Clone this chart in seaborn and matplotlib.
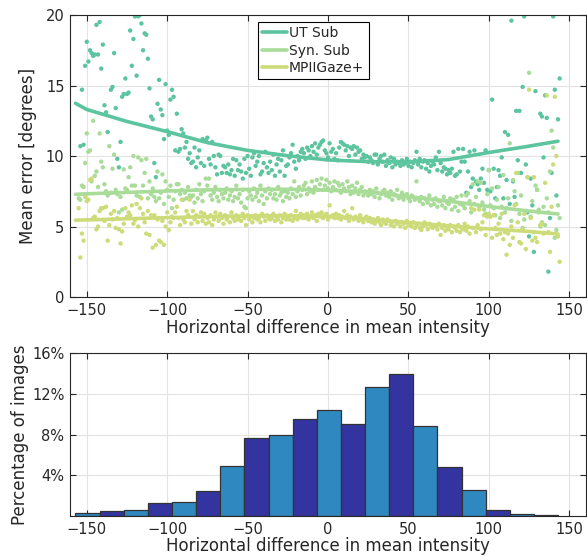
import numpy as np
import pandas as pd
import seaborn as sns
import matplotlib.pyplot as plt

# horizontal intensity difference of each sample, one per unit from -155 to 144
x_pts = np.arange(-155, 145)

# mean error [degrees] per sample, 10 samples per row
ut_sub = [
    21.5, 10.7, 14.7, 10.8, 16.4, 18.1, 16.7, 17.5, 17.3, 17.1,
    17.2, 19.3, 17.2, 19.5, 16.2, 17.9, 13.6, 13.1, 11.7, 21.0,
    14.7, 14.9, 17.3, 13.4, 9.8, 9.2, 11.0, 14.2, 14.4, 15.5,
    14.4, 14.5, 18.9, 16.4, 18.3, 19.9, 15.7, 19.9, 20.0, 19.4,
    17.5, 18.7, 18.6, 16.9, 14.8, 12.8, 12.6, 9.5, 8.5, 13.7,
    15.4, 13.3, 12.9, 11.2, 15.1, 11.8, 11.5, 14.0, 14.7, 14.2,
    10.4, 13.0, 10.3, 10.5, 11.9, 11.6, 10.6, 11.0, 9.8, 10.2,
    9.5, 9.6, 10.6, 9.2, 9.9, 10.4, 9.5, 11.2, 9.3, 11.1,
    11.3, 9.8, 9.4, 11.0, 10.0, 9.2, 8.7, 10.1, 10.0, 8.8,
    9.3, 9.2, 8.8, 9.4, 8.7, 9.0, 9.8, 8.6, 9.7, 9.0,
    9.4, 8.9, 8.4, 9.8, 8.8, 10.0, 9.1, 8.6, 9.9, 10.2,
    9.3, 9.6, 10.0, 8.7, 8.9, 9.5, 10.3, 9.2, 8.8, 9.6,
    9.0, 10.1, 8.6, 9.4, 9.8, 8.9, 9.7, 10.4, 8.6, 9.3,
    9.4, 9.9, 10.2, 10.8, 9.6, 9.1, 10.0, 9.7, 10.3, 10.5,
    10.2, 9.8, 10.6, 10.4, 10.0, 10.7, 10.3, 10.9, 10.1, 10.6,
    10.8, 11.0, 11.1, 10.4, 10.2, 9.9, 10.9, 10.3, 10.5, 9.8,
    10.2, 9.7, 10.6, 11.0, 10.9, 10.8, 10.4, 10.7, 10.0, 10.6,
    10.5, 10.7, 10.1, 10.6, 10.3, 10.4, 9.8, 10.1, 9.9, 10.0,
    9.6, 9.9, 9.7, 9.5, 10.1, 10.1, 9.4, 9.8, 10.0, 9.6,
    10.1, 9.3, 9.7, 9.5, 9.9, 9.2, 9.8, 9.4, 9.6, 9.5,
    9.3, 9.7, 9.4, 9.5, 9.8, 9.3, 9.6, 9.2, 9.5, 9.7,
    10.3, 9.4, 9.8, 9.2, 9.6, 9.7, 9.1, 9.5, 8.9, 9.3,
    9.6, 9.4, 9.9, 9.0, 10.3, 9.5, 8.9, 9.2, 9.1, 8.7,
    9.0, 8.8, 9.1, 10.3, 8.6, 8.7, 10.5, 8.9, 9.6, 10.5,
    9.6, 7.4, 8.9, 10.3, 7.8, 8.4, 10.4, 8.2, 8.0, 7.6,
    8.4, 9.1, 8.1, 10.4, 7.6, 9.0, 7.5, 14.0, 9.1, 7.0,
    7.8, 9.0, 8.6, 9.9, 7.0, 11.7, 8.3, 11.5, 6.6, 19.6,
    8.2, 7.1, 13.2, 9.7, 13.2, 8.8, 14.9, 19.9, 9.4, 6.0,
    4.3, 8.4, 6.5, 3.2, 14.6, 7.6, 21.5, 13.0, 12.8, 9.9,
    14.3, 12.7, 1.8, 5.6, 8.8, 19.9, 14.7, 7.2, 12.6, 15.5,
]
syn_sub = [
    7.0, 6.9, 7.9, 7.8, 9.5, 11.6, 10.3, 10.4, 8.2, 12.5,
    8.6, 8.9, 7.8, 11.6, 9.6, 9.2, 8.0, 7.5, 7.2, 10.7,
    7.4, 9.1, 10.1, 7.6, 7.3, 6.0, 7.1, 6.2, 9.05, 7.7,
    7.6, 8.5, 9.2, 7.9, 10.0, 7.9, 7.2, 9.9, 7.1, 9.7,
    7.9, 8.8, 9.8, 7.0, 8.2, 7.3, 7.7, 7.1, 6.8, 8.9,
    7.0, 7.4, 8.7, 6.6, 8.2, 7.6, 7.1, 7.9, 6.3, 6.9,
    7.5, 8.0, 8.0, 7.3, 7.6, 6.9, 7.4, 7.0, 7.8, 7.2,
    7.1, 7.2, 6.7, 7.6, 7.0, 8.0, 7.3, 6.8, 7.5, 8.4,
    7.9, 8.4, 7.2, 6.9, 7.4, 7.8, 7.1, 6.8, 7.6, 7.3,
    7.0, 7.4, 7.7, 6.9, 7.2, 7.5, 6.8, 7.1, 7.9, 7.0,
    7.3, 6.7, 7.6, 6.4, 6.3, 7.0, 7.5, 7.2, 6.9, 7.7,
    7.1, 7.4, 6.8, 7.9, 7.2, 6.6, 7.5, 7.0, 7.7, 7.3,
    7.6, 7.0, 7.3, 6.9, 7.8, 7.2, 7.4, 6.8, 7.5, 7.1,
    7.4, 7.0, 7.7, 7.3, 8.2, 7.1, 7.5, 7.8, 7.2, 7.6,
    7.9, 8.1, 7.3, 7.7, 7.5, 8.2, 7.4, 7.8, 8.3, 7.6,
    8.0, 8.4, 7.6, 7.9, 8.3, 7.7, 8.1, 7.5, 7.8, 8.2,
    7.6, 8.1, 7.9, 7.4, 8.0, 7.7, 7.5, 8.2, 7.8, 7.3,
    7.9, 7.4, 7.7, 8.1, 7.3, 7.6, 7.8, 7.2, 7.5, 7.4,
    7.2, 7.6, 7.3, 7.5, 7.1, 7.7, 7.4, 7.0, 7.3, 7.5,
    7.6, 7.2, 7.4, 7.1, 7.5, 6.9, 7.3, 7.2, 7.6, 7.0,
    7.1, 7.4, 6.9, 7.2, 7.3, 7.0, 6.8, 7.2, 7.1, 6.9,
    8.2, 7.0, 6.8, 7.1, 6.6, 7.0, 6.9, 6.7, 7.2, 6.5,
    6.9, 6.6, 7.0, 6.4, 6.8, 6.8, 6.5, 7.1, 6.3, 6.7,
    6.6, 7.0, 6.2, 6.9, 6.4, 7.1, 6.1, 6.6, 7.2, 6.5,
    6.3, 7.2, 7.35, 6.8, 6.0, 8.0, 6.6, 7.1, 8.2, 6.4,
    8.1, 6.7, 6.2, 5.9, 7.3, 9.0, 6.5, 7.7, 6.3, 5.8,
    6.9, 7.8, 5.6, 6.4, 8.65, 6.0, 6.3, 7.0, 10.9, 5.4,
    8.3, 7.5, 6.6, 8.8, 5.9, 7.2, 4.9, 5.5, 6.1, 8.5,
    15.9, 5.7, 6.8, 4.6, 7.9, 7.6, 6.2, 5.0, 5.3, 6.4,
    5.1, 7.0, 6.0, 8.9, 11.8, 10.6, 4.2, 4.75, 6.5, 5.6,
]
mpii_gaze = [
    6.3, 2.8, 4.5, 4.0, 7.1, 6.8, 6.9, 8.3, 8.4, 5.6,
    5.7, 4.8, 5.0, 6.1, 6.3, 6.3, 5.4, 6.4, 4.0, 5.1,
    5.9, 5.5, 6.1, 4.9, 5.6, 4.8, 3.8, 4.65, 5.2, 6.3,
    5.7, 6.0, 5.8, 6.5, 5.2, 5.45, 6.6, 5.0, 6.3, 7.0,
    5.9, 5.3, 4.5, 6.1, 4.4, 5.8, 3.5, 5.8, 3.7, 5.5,
    4.0, 3.9, 5.4, 3.7, 5.0, 6.0, 4.75, 5.3, 5.7, 5.6,
    6.0, 6.4, 5.6, 5.1, 6.9, 5.5, 5.3, 6.1, 5.8, 6.9,
    5.2, 6.1, 5.5, 5.8, 5.3, 5.7, 6.0, 5.4, 5.9, 5.2,
    5.6, 5.3, 5.8, 5.1, 5.5, 6.0, 5.7, 5.4, 5.9, 5.6,
    5.2, 5.8, 5.5, 5.7, 5.3, 6.0, 5.6, 5.4, 5.8, 5.5,
    5.7, 5.4, 5.9, 5.6, 5.1, 5.8, 5.5, 5.7, 5.3, 5.6,
    5.8, 5.5, 5.6, 5.3, 5.9, 5.7, 5.4, 5.8, 5.6, 5.5,
    5.6, 5.9, 5.4, 5.7, 5.5, 5.8, 5.3, 5.6, 5.9, 5.5,
    5.7, 5.5, 5.8, 5.4, 5.6, 6.1, 5.5, 5.7, 5.9, 5.6,
    5.8, 5.6, 5.9, 5.5, 5.7, 6.0, 5.6, 5.8, 5.4, 5.9,
    5.7, 6.0, 5.6, 5.8, 5.9, 5.5, 6.5, 5.7, 5.8, 5.6,
    5.9, 5.6, 5.8, 5.5, 5.7, 6.1, 5.6, 5.8, 5.4, 5.7,
    6.3, 5.5, 5.7, 5.6, 5.4, 5.8, 5.5, 5.3, 5.6, 5.7,
    5.4, 5.6, 5.3, 5.5, 5.2, 5.4, 5.6, 5.3, 5.1, 5.5,
    5.3, 5.2, 5.5, 5.4, 5.1, 5.3, 5.0, 5.4, 5.2, 5.3,
    5.0, 5.3, 5.2, 4.9, 5.4, 5.1, 5.2, 5.0, 5.3, 4.9,
    5.1, 5.2, 4.9, 4.75, 5.0, 5.3, 5.1, 4.8, 5.2, 5.0,
    4.9, 5.1, 5.0, 4.8, 5.2, 4.4, 4.9, 5.1, 4.7, 5.0,
    4.8, 5.1, 4.6, 5.0, 4.9, 4.7, 5.1, 4.6, 4.9, 4.8,
    5.2, 4.7, 5.0, 4.5, 6.3, 4.9, 6.2, 4.6, 5.1, 6.2,
    4.8, 5.3, 5.8, 4.4, 5.7, 5.9, 5.7, 4.2, 5.8, 4.9,
    4.4, 5.2, 4.5, 5.9, 4.1, 4.6, 3.0, 4.5, 3.7, 5.0,
    4.2, 6.5, 8.8, 5.3, 3.9, 3.8, 4.8, 5.9, 3.4, 8.5,
    14.7, 5.6, 4.0, 8.5, 4.2, 3.9, 6.0, 5.1, 5.2, 4.5,
    8.1, 14.3, 4.6, 3.2, 6.4, 9.4, 14.2, 10.0, 4.3, 2.5,
]

# fitted trend curves
curve_x = [-157, -150, -125, -100, -75, -50, -25, 0, 25, 50, 75, 100, 125, 143]
ut_curve = [13.74, 13.3, 12.45, 11.73, 10.95, 10.4, 10.02, 9.72, 9.6, 9.58, 9.75, 10.25, 10.7, 11.05]
syn_curve = [7.28, 7.32, 7.42, 7.52, 7.6, 7.63, 7.64, 7.58, 7.45, 7.12, 6.8, 6.42, 6.1, 5.89]
mpii_curve = [5.45, 5.47, 5.55, 5.63, 5.7, 5.75, 5.77, 5.72, 5.53, 5.28, 5.05, 4.83, 4.65, 4.47]

methods = ["UT Sub", "Syn. Sub", "MPIIGaze+"]
colors = ["#5cc49e", "#a8dc98", "#cddc78"]

# histogram of the horizontal difference (percent of images per bin)
bin_edges = list(range(-157, 144, 15))
hist_pct = [0.30, 0.49, 0.56, 1.25, 1.41, 2.46, 4.95, 7.67, 8.0, 9.54,
            10.46, 9.05, 12.66, 13.93, 8.85, 4.82, 2.52, 0.56, 0.20, 0.07]
bar_colors = ["#3088c0", "#3434a0"]

# long-form tables for seaborn
pts = pd.concat([
    pd.DataFrame({"x": x_pts, "err": vals, "method": m})
    for m, vals in zip(methods, [ut_sub, syn_sub, mpii_gaze])
])
curves = pd.concat([
    pd.DataFrame({"x": curve_x, "err": vals, "method": m})
    for m, vals in zip(methods, [ut_curve, syn_curve, mpii_curve])
])
bin_centers = [(bin_edges[i] + bin_edges[i + 1]) / 2 for i in range(len(hist_pct))]
hist_df = pd.DataFrame({"center": bin_centers, "pct": hist_pct})

sns.set_style("whitegrid", {"grid.color": "#e3e3e3", "axes.edgecolor": "#262626"})
plt.rcParams["font.family"] = ["DejaVu Sans"]
plt.rcParams["axes.labelcolor"] = "#262626"

fig = plt.figure(figsize=(5.87, 5.58), dpi=100)
ax1 = fig.add_axes([0.1193, 0.4677, 0.8790, 0.5054])
ax2 = fig.add_axes([0.1193, 0.0753, 0.8790, 0.2916])

palette = dict(zip(methods, colors))

# top panel: scatter + trend curves
sns.scatterplot(data=pts, x="x", y="err", hue="method", palette=palette,
                s=10, linewidth=0, legend=False, ax=ax1)
sns.lineplot(data=curves, x="x", y="err", hue="method", palette=palette,
             linewidth=2.6, ax=ax1)
handles, labels = ax1.get_legend_handles_labels()
leg = ax1.legend(handles, labels, loc="upper left", bbox_to_anchor=(0.364, 0.975),
                 borderaxespad=0, fancybox=False, framealpha=1, edgecolor="black",
                 fontsize=10, handlelength=1.8, labelspacing=0.25, borderpad=0.3,
                 handletextpad=0.15)
leg.get_frame().set_linewidth(0.8)

ax1.set_xlim(-160.4, 160.4)
ax1.set_ylim(0, 20)
ax1.set_xticks([-150, -100, -50, 0, 50, 100, 150])
ax1.set_yticks([0, 5, 10, 15, 20])
ax1.set_xlabel("Horizontal difference in mean intensity", fontsize=12, labelpad=1)
ax1.set_ylabel("Mean error [degrees]", fontsize=12, labelpad=6)

# bottom panel: histogram with alternating bar colours
sns.histplot(data=hist_df, x="center", weights="pct", bins=bin_edges,
             edgecolor="#333333", linewidth=0.9, alpha=1, ax=ax2)
for i, patch in enumerate(ax2.patches):
    patch.set_facecolor(bar_colors[i % 2])

ax2.set_xlim(-160.4, 160.4)
ax2.set_ylim(0, 16)
ax2.set_xticks([-150, -100, -50, 0, 50, 100, 150])
ax2.set_yticks([4, 8, 12, 16])
ax2.set_yticklabels(["4%", "8%", "12%", "16%"])
ax2.set_xlabel("Horizontal difference in mean intensity", fontsize=12, labelpad=0)
ax2.set_ylabel("Percentage of images", fontsize=12, labelpad=2)

for ax in (ax1, ax2):
    ax.tick_params(direction="in", length=4, width=0.8, labelsize=10.5,
                   top=True, right=True, bottom=True, left=True,
                   colors="#262626", pad=4)
    for sp in ax.spines.values():
        sp.set_linewidth(0.8)
        sp.set_color("#262626")

fig.savefig("out.png", dpi=100)
